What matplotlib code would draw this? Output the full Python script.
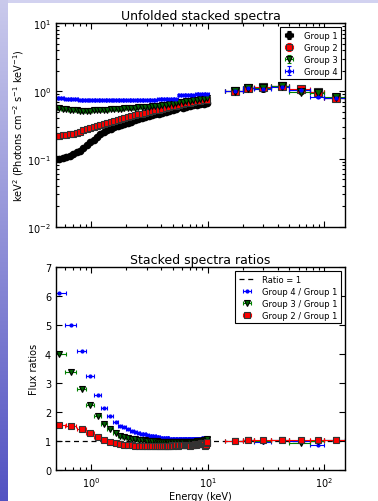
import numpy as np
import matplotlib
matplotlib.use('Agg')
import matplotlib.pyplot as plt
from matplotlib.patches import Rectangle
from matplotlib.ticker import NullFormatter
from matplotlib.colors import LinearSegmentedColormap

# ---------------- data: unfolded spectra (top) ----------------
e_lo = [0.50, 0.535, 0.57, 0.61, 0.655, 0.70, 0.75, 0.80, 0.86, 0.92, 0.98, 1.05,
        1.12, 1.20, 1.29, 1.38, 1.47, 1.58, 1.69, 1.81, 1.93, 2.07, 2.21, 2.37,
        2.54, 2.71, 2.90, 3.11, 3.33, 3.56, 3.81, 4.08, 4.36, 4.67, 5.00, 5.35,
        5.72, 6.12, 6.55, 7.01, 7.50, 8.03, 8.59, 9.19, 9.83]
g1_lo = [0.100, 0.101, 0.102, 0.106, 0.112, 0.118, 0.125, 0.133, 0.145, 0.158, 0.175, 0.193,
         0.212, 0.232, 0.250, 0.266, 0.280, 0.293, 0.305, 0.318, 0.330, 0.343, 0.356, 0.370,
         0.383, 0.396, 0.410, 0.424, 0.438, 0.452, 0.466, 0.480, 0.495, 0.510, 0.525, 0.545,
         0.585, 0.570, 0.575, 0.600, 0.630, 0.615, 0.640, 0.650, 0.670]
g2_lo = [0.220, 0.221, 0.223, 0.226, 0.230, 0.236, 0.245, 0.253, 0.263, 0.273, 0.284, 0.295,
         0.306, 0.318, 0.331, 0.343, 0.355, 0.368, 0.380, 0.392, 0.403, 0.416, 0.428, 0.440,
         0.452, 0.464, 0.478, 0.492, 0.506, 0.520, 0.535, 0.550, 0.563, 0.578, 0.595, 0.612,
         0.630, 0.645, 0.660, 0.675, 0.690, 0.705, 0.720, 0.735, 0.750]
g3_lo = [0.560, 0.555, 0.548, 0.540, 0.532, 0.525, 0.520, 0.517, 0.515, 0.515, 0.517, 0.520,
         0.523, 0.527, 0.531, 0.535, 0.539, 0.543, 0.547, 0.551, 0.555, 0.560, 0.565, 0.570,
         0.575, 0.580, 0.586, 0.592, 0.598, 0.604, 0.612, 0.620, 0.630, 0.640, 0.655, 0.670,
         0.690, 0.700, 0.705, 0.715, 0.730, 0.740, 0.755, 0.765, 0.780]
g4_lo = [0.790, 0.785, 0.778, 0.770, 0.763, 0.757, 0.752, 0.748, 0.745, 0.742, 0.740, 0.738,
         0.736, 0.735, 0.734, 0.733, 0.732, 0.731, 0.731, 0.730, 0.730, 0.730, 0.731, 0.732,
         0.734, 0.736, 0.738, 0.741, 0.744, 0.748, 0.752, 0.756, 0.760, 0.765, 0.770, 0.775,
         0.870, 0.875, 0.880, 0.885, 0.890, 0.895, 0.900, 0.905, 0.910]

e_hi = [17.1, 22.3, 29.7, 43.0, 62.6, 88.1, 125.0]
e_hi_lower = [14.0, 20.0, 25.0, 35.0, 50.0, 75.0, 100.0]
e_hi_upper = [20.0, 25.0, 35.0, 50.0, 75.0, 100.0, 150.0]
g1_hi = [1.00, 1.10, 1.13, 1.17, 1.05, 0.96, 0.80]
g2_hi = [1.00, 1.13, 1.15, 1.20, 1.06, 0.97, 0.80]
g3_hi = [1.00, 1.12, 1.12, 1.19, 0.97, 0.95, 0.82]
g4_hi = [1.00, 1.10, 1.08, 1.16, 1.04, 0.83, 0.80]

# ---------------- data: ratios (bottom) ----------------
e_r = [0.535, 0.673, 0.83, 0.986, 1.14, 1.30, 1.46, 1.62, 1.78, 1.93, 2.09, 2.25,
       2.40, 2.56, 2.72, 2.87, 3.03, 3.19, 3.34, 3.50, 3.66, 3.81, 3.97, 4.13,
       4.28, 4.44, 4.60, 4.75, 4.91, 5.07, 5.22, 5.38, 5.54, 5.69, 5.85, 6.01,
       6.16, 6.32, 6.48, 6.63, 6.79, 6.95, 7.10, 7.26, 7.42, 7.57, 7.73, 7.89,
       8.04, 8.20, 8.36, 8.51, 8.67, 8.83, 8.98, 9.14, 9.30, 9.45, 9.61, 9.77, 9.92]
r41 = [6.10, 5.00, 4.10, 3.26, 2.59, 2.15, 1.87, 1.66, 1.53, 1.47, 1.40, 1.35,
       1.32, 1.29, 1.26, 1.23, 1.21, 1.19, 1.17, 1.16, 1.14, 1.13, 1.12, 1.11,
       1.10, 1.09, 1.09, 1.08, 1.08, 1.07, 1.07, 1.08, 1.07, 1.06, 1.07, 1.07,
       1.06, 1.07, 1.06, 1.07, 1.07, 1.06, 1.07, 1.06, 1.07, 1.08, 1.07, 1.07,
       1.08, 1.07, 1.08, 1.07, 1.08, 1.08, 1.09, 1.08, 1.09, 1.09, 1.10, 1.09, 1.10]
r31 = [4.00, 3.39, 2.78, 2.26, 1.88, 1.59, 1.40, 1.27, 1.19, 1.13, 1.10, 1.08,
       1.06, 1.05, 1.03, 1.02, 1.01, 1.00, 1.00, 0.99, 0.99, 0.98, 0.98, 0.97,
       0.97, 0.97, 0.97, 0.96, 0.97, 0.97, 0.96, 0.97, 0.97, 0.96, 0.97, 0.97,
       0.96, 0.97, 0.97, 0.96, 0.97, 0.98, 0.97, 0.97, 0.98, 0.97, 0.98, 0.98,
       0.99, 0.99, 1.00, 0.99, 1.00, 1.00, 1.01, 1.01, 1.02, 1.03, 1.03, 1.04, 1.06]
r21 = [1.55, 1.53, 1.40, 1.28, 1.15, 1.04, 0.96, 0.92, 0.89, 0.87, 0.86, 0.85,
       0.84, 0.84, 0.83, 0.83, 0.83, 0.82, 0.82, 0.82, 0.83, 0.83, 0.83, 0.83,
       0.84, 0.84, 0.84, 0.84, 0.85, 0.84, 0.85, 0.85, 0.84, 0.85, 0.86, 0.85,
       0.85, 0.86, 0.86, 0.85, 0.87, 0.86, 0.84, 0.87, 0.88, 0.87, 0.89, 0.88,
       0.90, 0.89, 0.91, 0.90, 0.92, 0.91, 0.93, 0.92, 0.90, 0.82, 0.85, 0.92, 0.98]
r41_hi = [1.00, 1.04, 0.95, 1.04, 1.00, 0.86, 1.02]
r31_hi = [1.00, 1.05, 1.00, 1.04, 0.93, 1.00, 1.03]
r21_hi = [1.00, 1.05, 1.02, 1.05, 1.02, 1.03, 1.03]

# ---------------- figure ----------------
fig = plt.figure(figsize=(3.78, 5.02), dpi=100)
fig.patch.set_facecolor('white')

# slide-like background decoration
bg = fig.add_axes([0, 0, 8 / 378, 1])
grad = np.linspace(0, 1, 256).reshape(-1, 1)
cm = LinearSegmentedColormap.from_list('bgc', ['#cacaec', '#5252c2'])
bg.imshow(grad, aspect='auto', cmap=cm, extent=[0, 1, 0, 1], origin='upper')
bg.set_axis_off()
fig.add_artist(Rectangle((0, 1 - 4 / 502), 1, 4 / 502, transform=fig.transFigure,
                         facecolor='#d2d2f0', edgecolor='none', zorder=0))

def style(ax):
    ax.tick_params(which='both', direction='in', top=True, right=True, labelsize=7,
                   width=0.8, colors='k')
    ax.tick_params(which='major', length=4)
    ax.tick_params(which='minor', length=2)
    for s in ax.spines.values():
        s.set_linewidth(1.0)

def halfwidths(e):
    e = np.asarray(e)
    return np.gradient(e) / 2

# ---- top panel ----
ax1 = fig.add_axes([56 / 378, 1 - 227.7 / 502, 289 / 378, 203.4 / 502])
ax1.set_xscale('log')
ax1.set_yscale('log')

xe_lo = halfwidths(e_lo)
xe_hi = [np.subtract(e_hi, e_hi_lower), np.subtract(e_hi_upper, e_hi)]
kw = dict(elinewidth=0.8, capsize=1.5, capthick=0.8, linestyle='none')

series = [
    ('Group 1', g1_lo, g1_hi, dict(fmt='o', color='k', mfc='k', mec='k', ecolor='k', ms=4.5)),
    ('Group 2', g2_lo, g2_hi, dict(fmt='s', color='r', mfc='r', mec='#333333', ecolor='r', ms=4.5, mew=0.8)),
    ('Group 3', g3_lo, g3_hi, dict(fmt='v', color='g', mfc='#006400', mec='k', ecolor='g', ms=4.5, mew=0.8)),
    ('Group 4', g4_lo, g4_hi, dict(fmt='.', color='b', mfc='b', mec='b', ecolor='b', ms=4)),
]
for label, ylo, yhi, st in series:
    ylo = np.asarray(ylo)
    yhi = np.asarray(yhi)
    ax1.errorbar(e_lo, ylo, xerr=xe_lo, yerr=0.03 * ylo, **kw, **st, label=label)
    st2 = dict(st)
    if st2['fmt'] != '.':
        st2['ms'] = 5.5
    ax1.errorbar(e_hi, yhi, xerr=xe_hi, yerr=0.05 * yhi, **kw, **st2)

ax1.set_xlim(0.5, 150)
ax1.set_ylim(1e-2, 10)
ax1.xaxis.set_major_formatter(NullFormatter())
ax1.xaxis.set_minor_formatter(NullFormatter())
ax1.set_title('Unfolded stacked spectra', fontsize=9, pad=3)
ax1.set_ylabel(r'keV$^2$ (Photons cm$^{-2}$ s$^{-1}$ keV$^{-1}$)', fontsize=7, labelpad=1)
style(ax1)
leg1 = ax1.legend(loc='upper right', fontsize=6, frameon=True, fancybox=False,
                  edgecolor='k', framealpha=1, handlelength=1.5, borderpad=0.4,
                  labelspacing=0.35, handletextpad=1.0, borderaxespad=0.5)
leg1.get_frame().set_linewidth(0.8)

# ---- bottom panel ----
ax2 = fig.add_axes([56 / 378, 1 - 471 / 502, 289 / 378, 202.7 / 502])
ax2.set_xscale('log')
ax2.axhline(1, color='k', linestyle='--', linewidth=0.9, label='Ratio = 1', dashes=(4, 3))
xe_r = halfwidths(e_r)
rseries = [
    ('Group 4 / Group 1', r41, r41_hi, dict(fmt='.', color='b', mfc='b', mec='b', ecolor='b', ms=4)),
    ('Group 3 / Group 1', r31, r31_hi, dict(fmt='v', color='g', mfc='#006400', mec='k', ecolor='g', ms=5, mew=0.8)),
    ('Group 2 / Group 1', r21, r21_hi, dict(fmt='s', color='r', mfc='r', mec='#333333', ecolor='r', ms=4.5, mew=0.8)),
]
for label, ylo, yhi, st in rseries:
    ax2.errorbar(e_r, ylo, xerr=xe_r, **kw, **st, label=label)
    ax2.errorbar(e_hi, yhi, xerr=xe_hi, **kw, **st)

ax2.set_xlim(0.5, 150)
ax2.set_ylim(0, 7)
ax2.set_yticks(range(0, 8))
ax2.xaxis.set_minor_formatter(NullFormatter())
ax2.set_title('Stacked spectra ratios', fontsize=9, pad=3)
ax2.set_xlabel('Energy (keV)', fontsize=7, labelpad=2)
ax2.set_ylabel('Flux ratios', fontsize=7, labelpad=4)
style(ax2)
leg2 = ax2.legend(loc='upper right', fontsize=6, frameon=True, fancybox=False,
                  edgecolor='k', framealpha=1, handlelength=2.0, borderpad=0.4,
                  labelspacing=0.35, handletextpad=0.8, borderaxespad=0.5)
leg2.get_frame().set_linewidth(0.8)

fig.savefig('out.png', dpi=100)
